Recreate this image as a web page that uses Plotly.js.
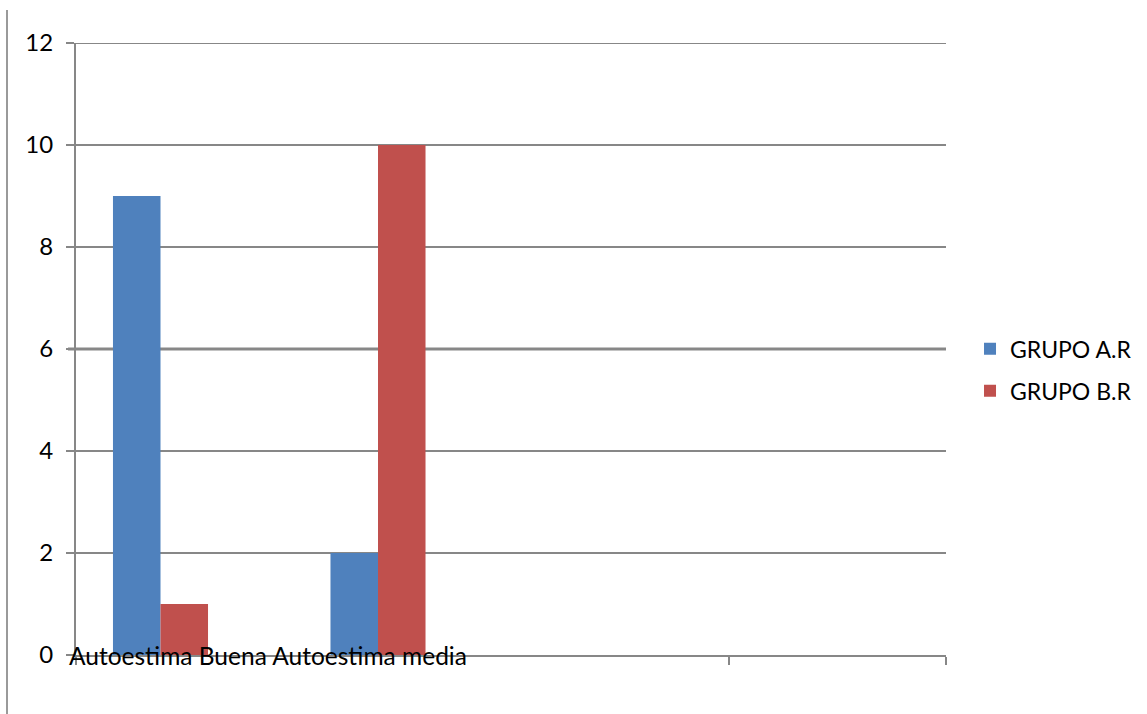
<!DOCTYPE html>
<html>
<head>
<meta charset="utf-8">
<script src="https://cdn.plot.ly/plotly-3.0.1.min.js"></script>
<style>html,body{margin:0;padding:0;background:#fff;}#chart{width:1147px;height:714px;}</style>
</head>
<body>
<div id="chart"></div>
<script>
const categories = ["Autoestima Buena", "Autoestima media"];
const categoryPositions = [0, 1];
const grupoA = [9, 2];
const grupoB = [1, 10];
const seriesNames = ["GRUPO A.R", "GRUPO B.R"];
const yTicks = [0, 2, 4, 6, 8, 10, 12];

const FONT = "Lato, 'Open Sans', sans-serif";
const GRID = "#878787";
const r0 = -0.3885;
const xBoundaries = [0, 3, 4].map(k => r0 + k);

const traces = [
  {type: "bar", name: seriesNames[0], x: categoryPositions, y: grupoA,
   marker: {color: "#4F81BD"}, legendgroup: "a", hoverinfo: "y"},
  {type: "bar", name: seriesNames[1], x: categoryPositions, y: grupoB,
   marker: {color: "#C0504D"}, legendgroup: "b", hoverinfo: "y"}
];

const layout = {
  width: 1147, height: 714,
  margin: {l: 76, r: 201, t: 43, b: 59, pad: 0, autoexpand: false},
  paper_bgcolor: "#fff", plot_bgcolor: "#fff",
  barmode: "group", bargap: 0.563, bargroupgap: 0,
  font: {family: FONT, size: 24, color: "#000"},
  showlegend: true,
  legend: {x: 1.0276, xanchor: "left", y: 0.466, yanchor: "middle",
           font: {family: FONT, size: 23, color: "#000"},
           traceorder: "grouped", tracegroupgap: 9, itemwidth: 30,
           bgcolor: "rgba(0,0,0,0)"},
  xaxis: {
    range: [r0, r0 + 4], showgrid: false, zeroline: false,
    showline: true, linecolor: GRID, linewidth: 2,
    tickmode: "array", tickvals: xBoundaries, ticktext: xBoundaries.map(() => ""),
    ticks: "outside", ticklen: 8, tickwidth: 2, tickcolor: GRID,
    showticklabels: false, fixedrange: true
  },
  yaxis: {
    range: [0, 12], tickmode: "array", tickvals: yTicks,
    showgrid: true, gridcolor: GRID, gridwidth: 2,
    zeroline: false, showline: true, linecolor: GRID, linewidth: 2,
    ticks: "outside", ticklen: 8, tickwidth: 2, tickcolor: GRID,
    ticklabelstandoff: 8,
    tickfont: {family: FONT, size: 24, color: "#000"}, fixedrange: true
  },
  shapes: [
    {type: "line", xref: "paper", yref: "y", x0: -8/870, x1: 1, y0: 6, y1: 6,
     line: {color: GRID, width: 3}, layer: "below"},
    {type: "line", xref: "paper", yref: "y", x0: -8/870, x1: 1, y0: 12, y1: 12,
     line: {color: GRID, width: 2}, layer: "below"},
    {type: "line", xref: "paper", yref: "paper", x0: -69/870, x1: -69/870,
     y0: -59/612, y1: (655-10)/612, line: {color: "#9a9a9a", width: 2}}
  ],
  annotations: [
    {xref: "paper", yref: "y", x: -9/870, y: 0, xanchor: "left", yanchor: "middle",
     text: categories.join(" "), showarrow: false,
     font: {family: FONT, size: 24.5, color: "#000"}}
  ]
};

Plotly.newPlot("chart", traces, layout, {displayModeBar: false, staticPlot: true});
</script>
</body>
</html>
